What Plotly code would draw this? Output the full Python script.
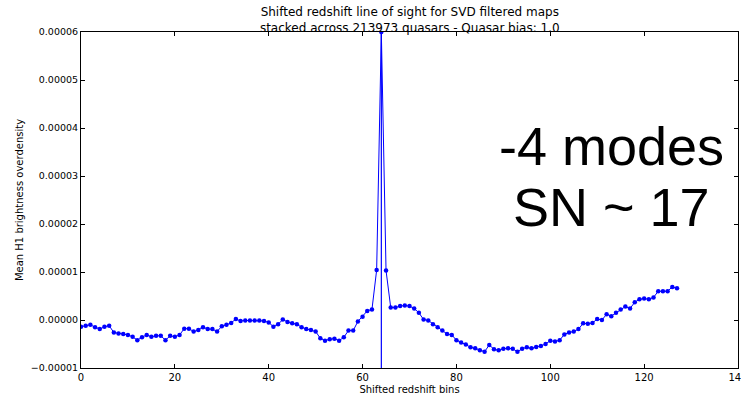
import plotly.graph_objects as go

# Data (values in units of 1e-5)
bins = list(range(128))
mean_h1_e5 = [
    -0.14, -0.12, -0.10, -0.15, -0.19, -0.14, -0.12, -0.26, -0.28, -0.29,
    -0.31, -0.35, -0.42, -0.36, -0.31, -0.35, -0.33, -0.33, -0.42, -0.33,
    -0.35, -0.31, -0.18, -0.18, -0.24, -0.21, -0.15, -0.19, -0.19, -0.24,
    -0.13, -0.10, -0.06, 0.02, -0.02, -0.01, -0.01, -0.01, -0.01, -0.02,
    -0.05, -0.14, -0.09, 0.01, -0.04, -0.07, -0.09, -0.15, -0.19, -0.21,
    -0.24, -0.38, -0.43, -0.40, -0.39, -0.43, -0.36, -0.22, -0.22, -0.03,
    0.07, 0.19, 0.22, 1.04, 6.00, 1.03, 0.26, 0.26, 0.29, 0.30,
    0.29, 0.24, 0.15, 0.01, -0.01, -0.09, -0.15, -0.22, -0.29, -0.31,
    -0.42, -0.47, -0.51, -0.57, -0.59, -0.63, -0.66, -0.52, -0.61, -0.63,
    -0.60, -0.59, -0.60, -0.66, -0.60, -0.57, -0.59, -0.56, -0.54, -0.50,
    -0.43, -0.45, -0.42, -0.30, -0.26, -0.24, -0.19, -0.07, -0.08, -0.06,
    0.02, 0.00, 0.12, 0.08, 0.15, 0.22, 0.28, 0.24, 0.37, 0.43,
    0.45, 0.43, 0.47, 0.60, 0.60, 0.60, 0.69, 0.66,
]
SCALE = 1e-5
mean_h1 = [v * SCALE for v in mean_h1_e5]

center_bin = 64
x_ticks = [0, 20, 40, 60, 80, 100, 120, 140]
y_ticks = [-1e-5, 0, 1e-5, 2e-5, 3e-5, 4e-5, 5e-5, 6e-5]
y_tick_labels = ["\u22120.00001", "0.00000", "0.00001", "0.00002",
                 "0.00003", "0.00004", "0.00005", "0.00006"]

title_text = ("Shifted redshift line of sight for SVD filtered maps<br>"
              "stacked across 213973 quasars - Quasar bias: 1.0")
note_line1 = "-4 modes"
note_line2 = "SN ~ 17"

BLUE = "#0000ff"
FONT = "DejaVu Sans"

fig = go.Figure()
fig.add_trace(go.Scatter(
    x=bins, y=mean_h1, mode="lines+markers",
    line=dict(color=BLUE, width=1),
    marker=dict(color=BLUE, size=4.5, line=dict(width=0)),
    cliponaxis=True, showlegend=False,
))

fig.add_shape(type="line", x0=center_bin, x1=center_bin, y0=-1e-5, y1=6e-5,
              xref="x", yref="y", line=dict(color=BLUE, width=1.2))

fig.add_annotation(x=113, y=3.62e-5, xref="x", yref="y", text=note_line1,
                   showarrow=False, font=dict(family="Liberation Sans", size=54, color="black"))
fig.add_annotation(x=113, y=2.36e-5, xref="x", yref="y", text=note_line2,
                   showarrow=False, font=dict(family="Liberation Sans", size=54, color="black"))

fig.update_layout(
    width=741, height=398,
    margin=dict(l=81, r=3, t=32, b=30, autoexpand=False),
    paper_bgcolor="white", plot_bgcolor="white",
    font=dict(family=FONT, size=10, color="black"),
    title=dict(text=title_text, x=0.553, xanchor="center", xref="container",
               y=1 - 16 / 398, yanchor="middle", yref="container", automargin=False,
               font=dict(family=FONT, size=12, color="black")),
)
fig.update_xaxes(
    range=[0, 140], tickvals=x_ticks, ticktext=[str(t) for t in x_ticks],
    showgrid=False, zeroline=False, showline=True, linecolor="black", linewidth=1,
    mirror="ticks", ticks="inside", ticklen=4, tickcolor="black", automargin=False,
    ticklabeloverflow="allow",
    title=dict(text="Shifted redshift bins", standoff=3, font=dict(size=10)),
    tickfont=dict(size=10),
)
fig.update_yaxes(
    range=[-1e-5, 6e-5], tickvals=y_ticks, ticktext=y_tick_labels,
    showgrid=False, zeroline=False, showline=True, linecolor="black", linewidth=1,
    mirror="ticks", ticks="inside", ticklen=4, tickcolor="black", automargin=False,
    ticklabeloverflow="allow",
    title=dict(text="Mean H1 brightness overdensity", standoff=5, font=dict(size=10)),
    tickfont=dict(size=9.5),
)

fig.write_html(
    "out.html",
    config={"displayModeBar": False},
    post_script="document.body.style.margin='0';document.body.style.padding='0';",
)
